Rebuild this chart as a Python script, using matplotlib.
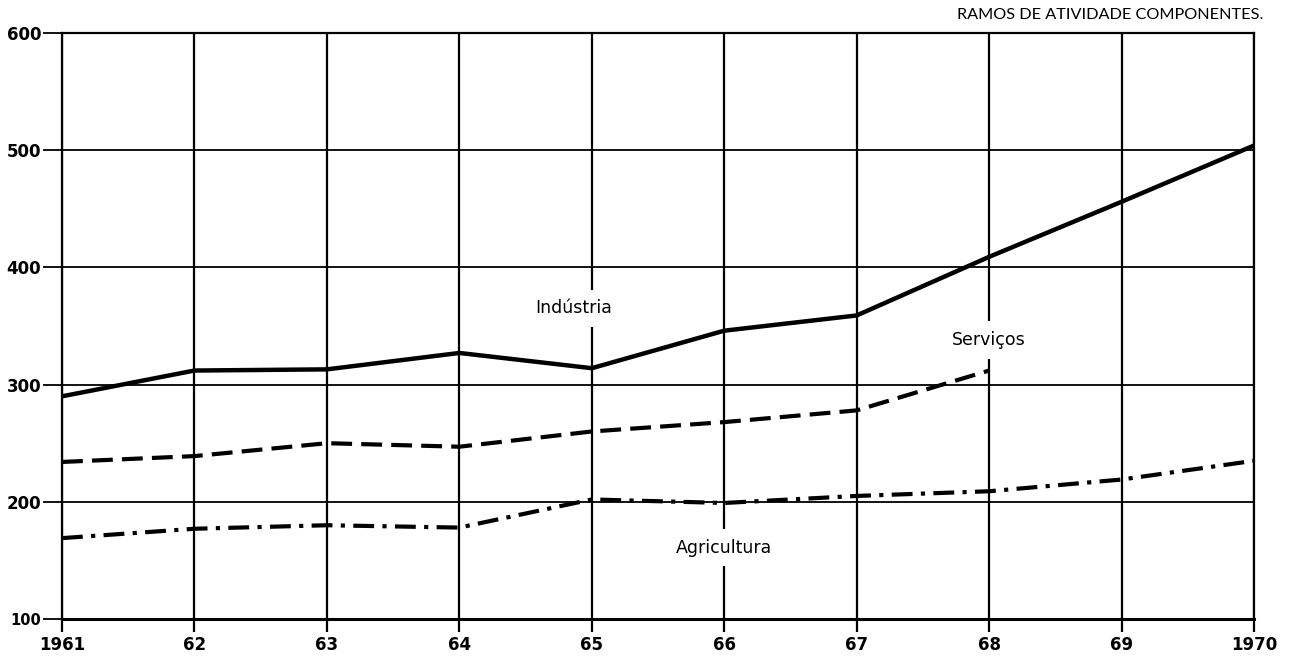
import matplotlib
matplotlib.use("Agg")
import matplotlib.pyplot as plt

years = [1961, 1962, 1963, 1964, 1965, 1966, 1967, 1968, 1969, 1970]
x_labels = ["1961", "62", "63", "64", "65", "66", "67", "68", "69", "1970"]
y_ticks = [100, 200, 300, 400, 500, 600]

industria = [290, 312, 313, 327, 314, 346, 359, 409, 456, 504]
servicos_years = [1961, 1962, 1963, 1964, 1965, 1966, 1967, 1968]
servicos = [234, 239, 250, 247, 260, 268, 278, 312]
agricultura = [169, 177, 180, 178, 202, 199, 205, 209, 219, 235]

plt.rcParams['font.family'] = ['DejaVu Sans']

fig = plt.figure(figsize=(12.91, 6.62), dpi=100)
ax = fig.add_axes([62/1291, 43/662, (1254-62)/1291, (619-33)/662])
ax.set_xlim(1961, 1970)
ax.set_ylim(100, 600)

# grid
for y in y_ticks:
    ax.axhline(y, color='black', lw=1.3, zorder=1)
for x in years:
    ax.axvline(x, color='black', lw=1.6, zorder=1)

for s in ax.spines.values():
    s.set_linewidth(1.6)
ax.spines['bottom'].set_linewidth(2.2)

ax.plot(years, industria, color='black', lw=3.2, solid_joinstyle='round', zorder=3)
l2, = ax.plot(servicos_years, servicos, color='black', lw=3.0, zorder=3)
l2.set_dashes((5, 2.2))
l3, = ax.plot(years, agricultura, color='black', lw=3.0, zorder=3)
l3.set_dashes((5, 2, 1, 2))

ax.set_xticks(years)
ax.set_xticklabels(x_labels, fontsize=12, fontweight='bold')
ax.set_yticks(y_ticks)
ax.set_yticklabels([str(v) for v in y_ticks], fontsize=12, fontweight='bold')
ax.get_yticklabels()[0].set_fontsize(10.5)
ax.tick_params(axis='y', length=14, width=1.3, pad=1, direction='out')
ax.tick_params(axis='x', length=9, width=1.6, pad=3, direction='out')

bbox = dict(facecolor='white', edgecolor='none', pad=7)
ax.text(1964.86, 365, "Indústria", fontsize=12.5, ha='center', va='center', bbox=bbox, zorder=2)
ax.text(1968.0, 338, "Serviços", fontsize=12.5, ha='center', va='center', bbox=bbox, zorder=2)
ax.text(1966.0, 161, "Agricultura", fontsize=12.5, ha='center', va='center', bbox=bbox, zorder=2)

fig.text(1263/1291, 1 - 15/662, "RAMOS DE ATIVIDADE COMPONENTES.", fontsize=11.7,
         ha='right', va='center', family=['Lato', 'DejaVu Sans'])

fig.savefig("out.png", dpi=100)
